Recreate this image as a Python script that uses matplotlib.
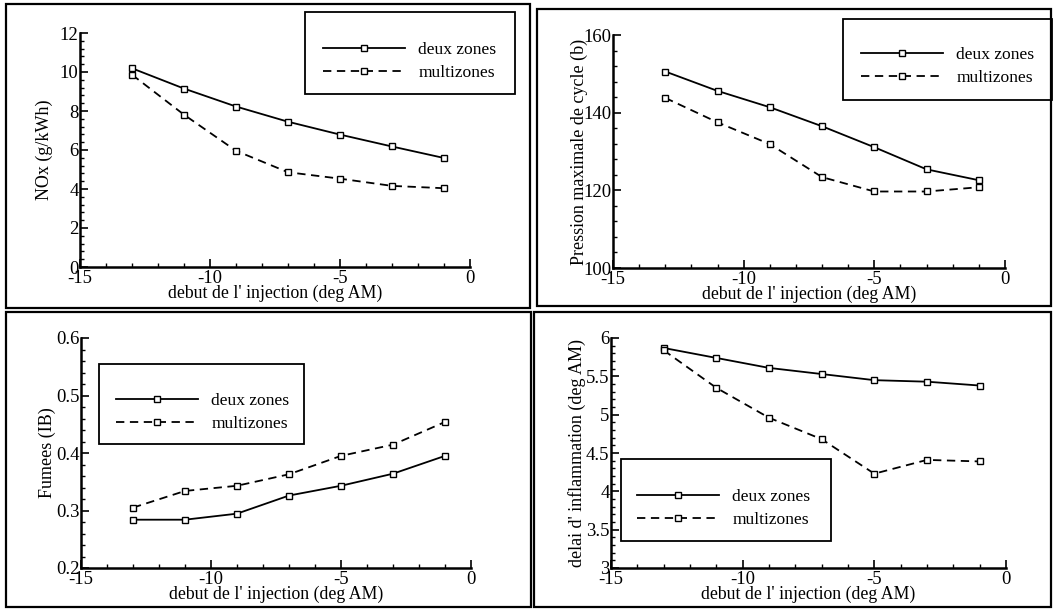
import matplotlib
matplotlib.use("Agg")
import matplotlib.pyplot as plt
from matplotlib.patches import Rectangle
from matplotlib.ticker import MultipleLocator, FuncFormatter

plt.rcParams['font.family'] = ['Liberation Serif', 'DejaVu Serif']
plt.rcParams['lines.scale_dashes'] = False
plt.rcParams['axes.unicode_minus'] = False

# ---- data ----
x_inj = [-13, -11, -9, -7, -5, -3, -1]
labels = ["deux zones", "multizones"]

nox_deux = [10.19, 9.15, 8.23, 7.45, 6.79, 6.18, 5.59]
nox_multi = [9.86, 7.81, 5.96, 4.86, 4.53, 4.16, 4.04]

pres_deux = [150.6, 145.6, 141.4, 136.5, 131.1, 125.4, 122.6]
pres_multi = [143.8, 137.5, 131.9, 123.4, 119.7, 119.7, 120.8]

fum_deux = [0.284, 0.284, 0.2945, 0.326, 0.343, 0.364, 0.395]
fum_multi = [0.305, 0.334, 0.343, 0.363, 0.395, 0.4145, 0.454]

del_deux = [5.87, 5.74, 5.61, 5.53, 5.45, 5.43, 5.38]
del_multi = [5.84, 5.35, 4.96, 4.68, 4.23, 4.41, 4.39]

xlabel = "debut de l' injection (deg AM)"

W, H = 1053, 610
fig = plt.figure(figsize=(W / 100, H / 100), dpi=100)
fmt = FuncFormatter(lambda v, p: "%g" % round(v, 6))


def fx(px):
    return px / W


def fy(py):
    return 1 - py / H


def panel_box(l, t, r, b):
    fig.patches.append(Rectangle((fx(l), fy(b)), fx(r) - fx(l), fy(t) - fy(b),
                                 transform=fig.transFigure, fill=False,
                                 edgecolor='black', linewidth=1.6))


def make_axes(l, t, r, b, ylim, ymaj, ymin, ylab, ydata_d, ydata_m,
              leg_box, leg_anchor, ylabpad=0):
    ax = fig.add_axes([fx(l), fy(b), fx(r) - fx(l), fy(t) - fy(b)])
    ax.plot(x_inj, ydata_d, color='black', lw=1.3, ls='-', marker='s', ms=4,
            mfc='white', mec='black', mew=1.0, label=labels[0])
    ax.plot(x_inj, ydata_m, color='black', lw=1.3, ls=(0, (6, 4)), marker='s',
            ms=4, mfc='white', mec='black', mew=1.0, label=labels[1])
    ax.set_xlim(-15, 0)
    ax.set_ylim(*ylim)
    ax.xaxis.set_major_locator(MultipleLocator(5))
    ax.xaxis.set_minor_locator(MultipleLocator(1))
    ax.yaxis.set_major_locator(MultipleLocator(ymaj))
    ax.yaxis.set_minor_locator(MultipleLocator(ymin))
    ax.xaxis.set_major_formatter(fmt)
    ax.yaxis.set_major_formatter(fmt)
    for s in ('top', 'right'):
        ax.spines[s].set_visible(False)
    for s in ('left', 'bottom'):
        ax.spines[s].set_linewidth(1.8)
    ax.tick_params(which='major', direction='in', length=5.5, width=1.2,
                   labelsize=13.5, pad=1)
    ax.tick_params(axis='x', which='major', pad=2)
    ax.tick_params(which='minor', direction='in', length=3.2, width=1.0)
    ax.set_xlabel(xlabel, fontsize=12.8, labelpad=-1.5)
    ax.set_ylabel(ylab, fontsize=13, labelpad=ylabpad)
    ax.patch.set_alpha(0)
    # legend box
    lb = leg_box
    fig.patches.append(Rectangle((fx(lb[0]), fy(lb[3])), fx(lb[2]) - fx(lb[0]),
                                 fy(lb[1]) - fy(lb[3]), transform=fig.transFigure,
                                 fill=False, edgecolor='black', linewidth=1.3))
    ax.legend(loc='upper left', bbox_to_anchor=(fx(leg_anchor[0]), fy(leg_anchor[1])),
              bbox_transform=fig.transFigure, frameon=False, fontsize=12.6,
              handlelength=4.7, handletextpad=0.75, labelspacing=0.35,
              borderpad=0, borderaxespad=0, numpoints=1)
    return ax


# outer panel frames
panel_box(6, 4, 530, 308)
panel_box(537, 9, 1051, 306)
panel_box(6, 312, 531, 607)
panel_box(534, 312, 1051, 607)

make_axes(80, 33, 470, 267, (0, 12), 2, 0.4, "NOx (g/kWh)",
          nox_deux, nox_multi, (305, 12, 515, 94), (323, 42), ylabpad=5)
make_axes(613, 35, 1005, 268, (100, 160), 20, 4, "Pression maximale de cycle (b)",
          pres_deux, pres_multi, (843, 19, 1052, 100), (861, 47), ylabpad=-3)
make_axes(81, 338, 471, 568, (0.2, 0.6), 0.1, 0.02, "Fumees (IB)",
          fum_deux, fum_multi, (99, 364, 304, 444), (116, 393))
make_axes(611, 338, 1006, 568, (3, 6), 0.5, 0.1, "delai d' inflammation (deg AM)",
          del_deux, del_multi, (621, 459, 831, 541), (637, 489))

fig.savefig("out.png", dpi=100)
